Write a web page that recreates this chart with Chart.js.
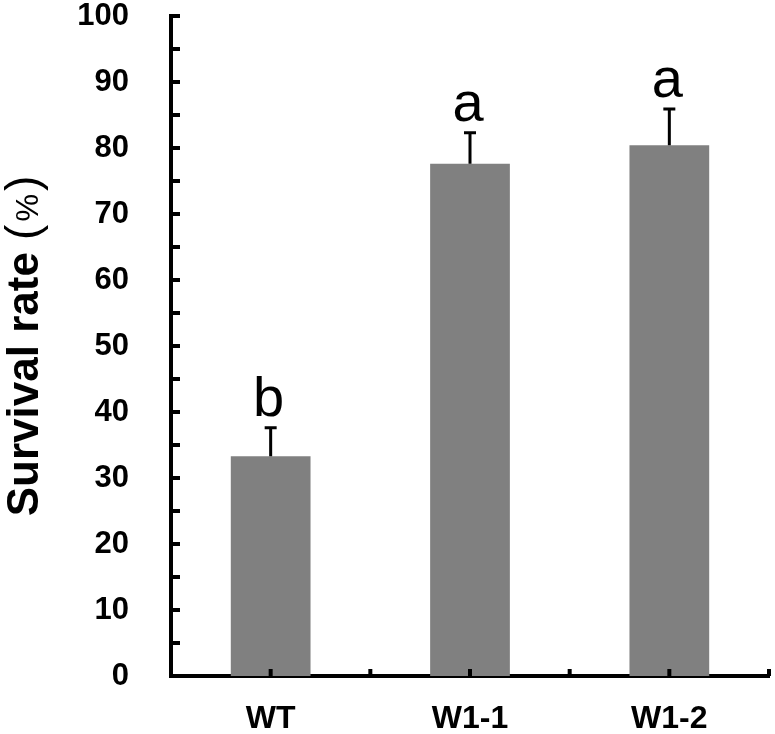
<!DOCTYPE html>
<html><head><meta charset="utf-8">
<script src="https://cdn.jsdelivr.net/npm/chart.js@4/dist/chart.umd.min.js"></script>
<style>html,body{margin:0;padding:0;background:#fff}#wrap{width:775px;height:734px}</style>
</head><body><div id="wrap"><canvas id="c" width="775" height="734"></canvas></div>
<script>
const categories = ['WT', 'W1-1', 'W1-2'];
const survivalMeans = [33.3, 77.6, 80.4];
const survivalErrors = [4.3, 4.7, 5.5];
const significanceLetters = ['b', 'a', 'a'];
const yTicks = [0, 10, 20, 30, 40, 50, 60, 70, 80, 90, 100];
const yTitleMain = 'Survival rate';
const yTitleUnit = ['(', '%', ')'];

const FONT = '"Liberation Sans", Arial, sans-serif';

const decorPlugin = {
  id: 'decor',
  afterDatasetsDraw(chart) {
    const ctx = chart.ctx;
    const xs = chart.scales.x, ys = chart.scales.y;
    const meta = chart.getDatasetMeta(0);
    ctx.save();
    ctx.strokeStyle = '#000';
    ctx.lineWidth = 3;
    survivalMeans.forEach((m, i) => {
      const x = meta.data[i].x;
      const y0 = ys.getPixelForValue(m);
      const y1 = ys.getPixelForValue(m + survivalErrors[i]);
      ctx.beginPath();
      ctx.moveTo(x, y0); ctx.lineTo(x, y1);
      ctx.moveTo(x - 6, y1); ctx.lineTo(x + 6, y1);
      ctx.stroke();
      ctx.fillStyle = '#000';
      ctx.font = '56px ' + FONT;
      ctx.textAlign = 'center';
      ctx.textBaseline = 'alphabetic';
      ctx.fillText(significanceLetters[i], x - 2, y1 - 12);
    });
    const ax = xs.left;
    ctx.lineWidth = 4;
    for (let v = 0; v <= 100; v += 5) {
      const y = ys.getPixelForValue(v);
      ctx.beginPath();
      ctx.moveTo(ax, y); ctx.lineTo(ax + 9, y);
      ctx.stroke();
    }
    const by = ys.bottom;
    for (let k = 0; k < categories.length * 2; k++) {
      const x = xs.getPixelForValue(k / 2);
      ctx.beginPath();
      ctx.moveTo(x, by); ctx.lineTo(x, by - 7);
      ctx.stroke();
    }
    // y-axis title (mixed weights)
    const midY = (ys.top + ys.bottom) / 2;
    ctx.fillStyle = '#000';
    ctx.textAlign = 'left';
    ctx.textBaseline = 'alphabetic';
    const parts = [
      { t: yTitleMain + ' ', f: 'bold 44px ' + FONT, gap: 0 },
      { t: yTitleUnit[0], f: '46px ' + FONT, gap: 3 },
      { t: yTitleUnit[1], f: '31px ' + FONT, gap: 3 },
      { t: yTitleUnit[2], f: '46px ' + FONT, gap: 0 }
    ];
    let total = 0;
    parts.forEach(p => { ctx.font = p.f; p.w = ctx.measureText(p.t).width; total += p.w + p.gap; });
    ctx.translate(38, midY + total / 2);
    ctx.rotate(-Math.PI / 2);
    let px = 0;
    parts.forEach(p => { ctx.font = p.f; ctx.fillText(p.t, px, 0); px += p.w + p.gap; });
    ctx.restore();
  }
};

new Chart(document.getElementById('c'), {
  type: 'bar',
  data: {
    labels: categories,
    datasets: [{
      data: survivalMeans,
      backgroundColor: '#808080',
      borderWidth: 0,
      barPercentage: 0.8,
      categoryPercentage: 0.5
    }]
  },
  options: {
    responsive: false,
    animation: false,
    devicePixelRatio: 1,
    layout: { padding: { top: 16, right: 6, left: 0, bottom: 0 } },
    plugins: { legend: { display: false }, tooltip: { enabled: false } },
    scales: {
      x: {
        grid: { display: false, drawTicks: false },
        border: { display: true, color: '#000', width: 4 },
        ticks: { color: '#000', padding: 24, font: { family: FONT, size: 32, weight: 'bold' } },
        afterFit(s) { s.height = 58; s.paddingLeft = 0; s.paddingRight = 0; }
      },
      y: {
        min: 0, max: 100,
        afterBuildTicks(s) { s.ticks = yTicks.map(v => ({ value: v })); },
        grid: { display: false, drawTicks: false },
        border: { display: true, color: '#000', width: 4 },
        ticks: { color: '#000', padding: 42, font: { family: FONT, size: 31, weight: 'bold' } },
        title: { display: false },
        afterFit(s) { s.width = 171; s.paddingTop = 0; s.paddingBottom = 0; }
      }
    }
  },
  plugins: [decorPlugin]
});
</script></body></html>
